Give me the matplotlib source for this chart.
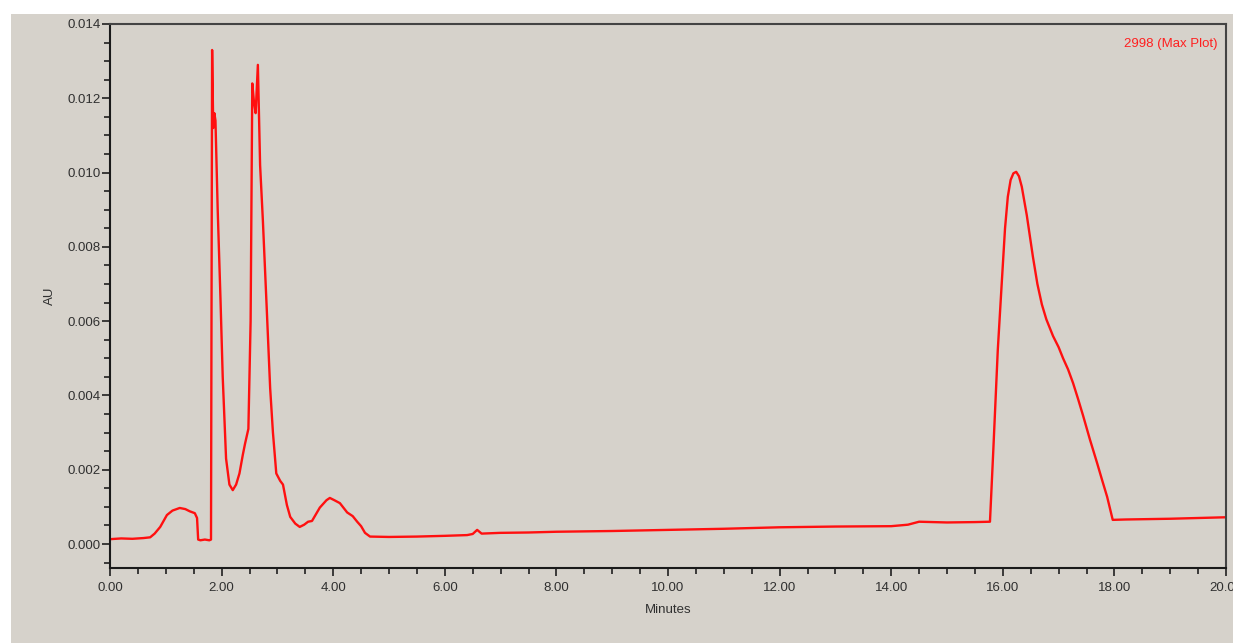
import numpy as np
import matplotlib.pyplot as plt
from matplotlib.ticker import MultipleLocator, FormatStrFormatter
from matplotlib.patches import Rectangle

# Chromatogram trace (time in minutes, absorbance in AU)
minutes = [0.00, 0.20, 0.40, 0.60, 0.72, 0.80, 0.90, 1.02, 1.12, 1.25, 1.35, 1.43,
           1.52, 1.56, 1.58, 1.62, 1.70, 1.78, 1.81, 1.83, 1.85, 1.87, 1.89, 1.93,
           1.98, 2.02, 2.08, 2.14, 2.20, 2.26, 2.32, 2.38, 2.42, 2.48, 2.52, 2.55,
           2.58, 2.61, 2.65, 2.69, 2.74, 2.81, 2.87, 2.92, 2.98, 3.05, 3.10, 3.17,
           3.23, 3.32, 3.40, 3.48, 3.55, 3.62, 3.76, 3.88, 3.94, 4.02, 4.12, 4.25,
           4.35, 4.43, 4.50, 4.57, 4.66, 5.00, 5.50, 6.00, 6.40, 6.50, 6.58, 6.66,
           6.99, 7.50, 8.00, 9.00, 10.00, 11.00, 12.00, 13.00, 14.00, 14.30, 14.50,
           15.00, 15.50, 15.77, 15.83, 15.91, 15.98, 16.04, 16.09, 16.14, 16.19,
           16.24, 16.29, 16.34, 16.43, 16.54, 16.62, 16.70, 16.78, 16.90, 17.00,
           17.08, 17.17, 17.26, 17.35, 17.44, 17.56, 17.69, 17.78, 17.87, 17.97,
           18.20, 18.60, 19.00, 19.50, 20.00]
au = [0.00013, 0.00015, 0.00014, 0.00016, 0.00018, 0.00028, 0.00046, 0.00078, 0.00090, 0.00097, 0.00094, 0.00088,
      0.00083, 0.00070, 0.00012, 0.00010, 0.00012, 0.00010, 0.00012, 0.01330, 0.01120, 0.01160, 0.01140, 0.00900,
      0.00660, 0.00450, 0.00230, 0.00160, 0.00145, 0.00160, 0.00190, 0.00240, 0.00270, 0.00310, 0.00600, 0.01240,
      0.01190, 0.01160, 0.01290, 0.01020, 0.00870, 0.00630, 0.00420, 0.00300, 0.00190, 0.00170, 0.00160, 0.00105,
      0.00073, 0.00055, 0.00046, 0.00052, 0.00060, 0.00062, 0.00098, 0.00118, 0.00124, 0.00118, 0.00110, 0.00085,
      0.00075, 0.00060, 0.00048, 0.00030, 0.00020, 0.00019, 0.00020, 0.00022, 0.00024, 0.00027, 0.00038, 0.00028,
      0.00030, 0.00031, 0.00033, 0.00035, 0.00038, 0.00041, 0.00045, 0.00047, 0.00048, 0.00052, 0.00060,
      0.00058, 0.00059, 0.00060, 0.00253, 0.00522, 0.00700, 0.00850, 0.00935, 0.00980, 0.00998,
      0.01002, 0.00990, 0.00962, 0.00885, 0.00773, 0.00700, 0.00645, 0.00605, 0.00560, 0.00530,
      0.00500, 0.00470, 0.00433, 0.00390, 0.00345, 0.00282, 0.00218, 0.00172, 0.00127, 0.00065,
      0.00066, 0.00067, 0.00068, 0.00070, 0.00072]

bg = "#d6d2cb"

fig = plt.figure(figsize=(12.33, 6.43), dpi=100, facecolor="white")
fig.patches.append(Rectangle((11 / 1233, 0), 1, 1 - 14 / 643, transform=fig.transFigure,
                             facecolor=bg, edgecolor="none", zorder=-5))

ax = fig.add_axes([110 / 1233, 1 - 568 / 643, 1116 / 1233, 544 / 643])
ax.set_zorder(2)
ax.set_facecolor(bg)
ax.plot(minutes, au, color="#ff1010", lw=1.7)

ax.set_xlim(0, 20)
ax.set_ylim(-0.000646, 0.014)
ax.xaxis.set_major_locator(MultipleLocator(2))
ax.xaxis.set_minor_locator(MultipleLocator(0.5))
ax.yaxis.set_major_locator(MultipleLocator(0.002))
ax.yaxis.set_minor_locator(MultipleLocator(0.0005))
ax.xaxis.set_major_formatter(FormatStrFormatter("%.2f"))
ax.yaxis.set_major_formatter(FormatStrFormatter("%.3f"))

fnt = "Liberation Sans"
for lab in ax.get_xticklabels() + ax.get_yticklabels():
    lab.set_family(fnt)
ax.tick_params(which="major", length=6, width=1.2, labelsize=9.5, color="#202020",
               labelcolor="#303030", top=False, right=False)
ax.tick_params(which="minor", length=4, width=1.2, color="#202020", top=False, right=False)
ax.tick_params(axis="x", pad=4)
ax.tick_params(axis="y", pad=1)
for s in ax.spines.values():
    s.set_linewidth(1.5)
    s.set_color("#1a1a1a")
ax.spines["top"].set_color("#444444")
ax.spines["right"].set_color("#444444")

ax.set_xlabel("Minutes", fontsize=9.5, family=fnt, color="#303030", labelpad=7)
ax.set_ylabel("AU", fontsize=9.5, family=fnt, color="#303030", labelpad=8)

ax.text(0.992, 0.975, "2998 (Max Plot)", transform=ax.transAxes, ha="right", va="top",
        color="#ff2020", fontsize=9.5, family=fnt)

fig.savefig("out.png", dpi=100, facecolor="white")
